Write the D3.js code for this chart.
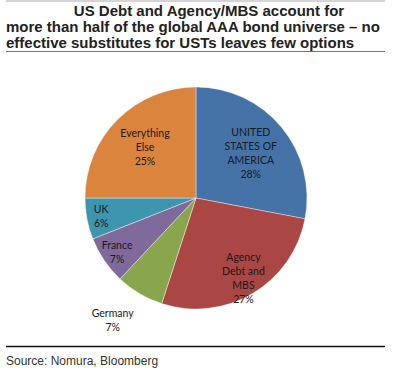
<!DOCTYPE html>
<html>
<head>
<meta charset="utf-8">
<script src="https://cdn.jsdelivr.net/npm/d3@7"></script>
<style>
  body { margin: 0; background: #fff; }
  svg { display: block; }
</style>
</head>
<body>
<svg id="chart"></svg>
<script>
// data
const categories = ["UNITED STATES OF AMERICA", "Agency Debt and MBS", "Germany", "France", "UK", "Everything Else"];
const labelLines = [["UNITED", "STATES OF", "AMERICA"], ["Agency", "Debt and", "MBS"], ["Germany"], ["France"], ["UK"], ["Everything", "Else"]];
const shares = [28, 27, 7, 7, 6, 25];
const titleLines = ["US Debt and Agency/MBS account for",
                    "more than half of the global AAA bond universe \u2013 no",
                    "effective substitutes for USTs leaves few options"];
const source = "Source: Nomura, Bloomberg";

// styles
const colors = ["#4572A7", "#AA4643", "#89A54E", "#80699B", "#3D96AE", "#DB843D"];
const labelR = [0.64, 0.84, 1.28, 0.86, 0.87, 0.65]; // label radius as fraction of R
const W = 400, H = 373;
const cx = 196, cy = 198, R = 111;

let svg = d3.select("#chart").attr("width", W).attr("height", H);

// top grey strip
svg.append("rect").attr("x", 6).attr("y", 0).attr("width", 379).attr("height", 2).attr("fill", "#d4d4d4");

// title
let title = svg.append("text")
  .attr("font-family", "Arial, 'Liberation Sans', sans-serif")
  .attr("font-weight", "bold")
  .attr("font-size", 15)
  .attr("fill", "#222");
titleLines.forEach((t, i) => {
  title.append("tspan")
    .attr("x", i == 0 ? 209 : 6)
    .attr("y", 16 + i * 16)
    .attr("text-anchor", i == 0 ? "middle" : "start")
    .text(t);
});
svg.append("line").attr("x1", 6).attr("x2", 385).attr("y1", 51.5).attr("y2", 51.5)
  .attr("stroke", "#777").attr("stroke-width", 1);

// pie
let pie = d3.pie().sort(null).value(d => d)(shares);
let arc = d3.arc().innerRadius(0).outerRadius(R);

let g = svg.append("g").attr("transform", `translate(${cx},${cy})`);

g.selectAll("path.slice")
  .data(pie)
  .join("path")
  .attr("class", "slice")
  .attr("d", arc)
  .attr("fill", (d, i) => colors[i])
  .attr("stroke", "#fff")
  .attr("stroke-width", 0.4);

// labels
let labels = g.selectAll("text.lbl")
  .data(pie)
  .join("text")
  .attr("class", "lbl")
  .attr("font-family", "Lato, 'Open Sans', sans-serif")
  .attr("font-size", 10.5)
  .attr("fill", "#1a1a1a")
  .attr("text-anchor", "middle")
  .each(function (d, i) {
    let r = R * labelR[i];
    let a = (d.startAngle + d.endAngle) / 2;
    let x = Math.sin(a) * r;
    let y = -Math.cos(a) * r;
    if (labelR[i] > 1) x -= 11; // outside label nudged left
    let lines = labelLines[i].concat([shares[i] + "%"]);
    let top = y - (lines.length - 1) * 14 / 2 + 4;
    let t = d3.select(this);
    lines.forEach((s, k) => {
      t.append("tspan").attr("x", x).attr("y", top + k * 14).text(s);
    });
  });

// footer
svg.append("line").attr("x1", 6).attr("x2", 385).attr("y1", 346.5).attr("y2", 346.5)
  .attr("stroke", "#111").attr("stroke-width", 1.5);
svg.append("text")
  .attr("x", 6).attr("y", 365)
  .attr("font-family", "Arial, 'Liberation Sans', sans-serif")
  .attr("font-size", 12)
  .attr("fill", "#333")
  .text(source);
</script>
</body>
</html>
